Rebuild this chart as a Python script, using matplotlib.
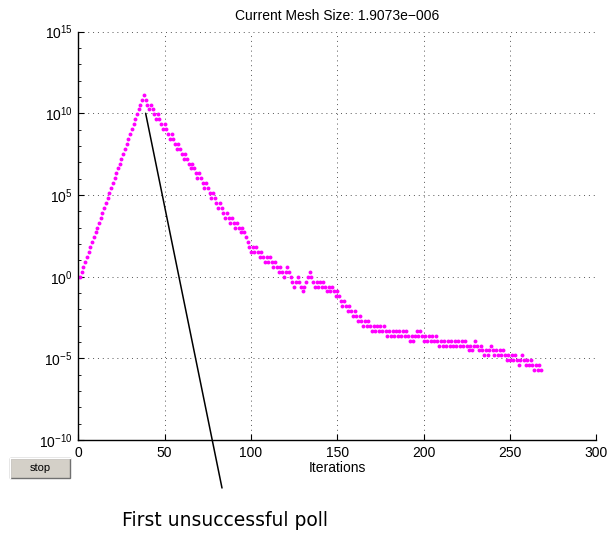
import numpy as np
import matplotlib
matplotlib.use('Agg')
from matplotlib import pyplot as plt
from matplotlib.patches import ConnectionPatch, Rectangle
from matplotlib.lines import Line2D
from matplotlib.ticker import LogLocator, NullFormatter

plt.rcParams['font.family'] = ['Liberation Sans', 'DejaVu Sans']
plt.rcParams['mathtext.fontset'] = 'custom'
plt.rcParams['mathtext.rm'] = 'Liberation Sans'
plt.rcParams['mathtext.it'] = 'Liberation Sans'

# mesh size as power of two, one value per iteration
mesh_log2 = [
    0, 0, 1, 2, 3, 4, 5, 6, 7, 8, 9, 10, 11, 12, 13, 14, 15, 16, 17, 18,
    19, 20, 21, 22, 23, 24, 25, 26, 27, 28, 29, 30, 31, 32, 33, 34, 35, 36, 37,
    36, 35, 34, 35, 34, 33, 32, 33, 32, 31, 30, 31, 30, 29, 28, 29, 28, 27, 26,
    27, 26, 25, 24, 25, 24, 23, 22, 23, 22, 21, 20, 21, 20, 19, 18, 19, 18, 17,
    16, 17, 16, 15, 14, 15, 14,
    13, 12, 13, 12, 11, 12, 11, 10, 11, 10, 9, 10, 9, 8, 7, 6, 5, 6, 5, 6,
    5, 4, 5, 4, 3, 4, 3, 4, 3, 2, 3, 2, 1, 2, 1,
    0, 1, 2, 1, 0, -1, -2, -1, 0, -1, -2, -3, -2, -1, 0, 1, 0, -1, -2, -1,
    -2, -1, -2, -1, -2, -3, -2, -3, -2, -3, -4,
    -3, -4, -5, -6, -5, -6, -7, -6, -7, -8, -7, -8, -9, -8, -9, -10, -9, -10,
    -9, -10, -11, -10, -11, -10, -11, -10, -11, -10, -11, -12, -11,
    -12, -11, -12, -11, -12, -11, -12, -11, -12, -11, -12, -13, -12, -13, -12,
    -11, -12, -11, -12, -13, -12, -13, -12, -13, -12, -13, -12, -13, -14, -13,
    -14, -13, -14, -13, -14, -13, -14, -13, -14, -13, -14, -13, -14, -13, -14,
    -15, -14, -15, -14, -13, -14, -15, -14, -15, -16, -15, -16, -15, -14, -15,
    -16, -15, -16, -15, -16, -15, -16, -17, -16, -17, -16, -17, -16, -17, -18,
    -17, -16, -17, -18, -17, -18, -17, -18, -19, -18, -19, -18, -19,
]
x_ticks = [0, 50, 100, 150, 200, 250, 300]
y_ticks = [1e-10, 1e-5, 1e0, 1e5, 1e10, 1e15]
y_labels = [r'$10^{-10}$', r'$10^{-5}$', r'$10^{0}$', r'$10^{5}$', r'$10^{10}$', r'$10^{15}$']
title = 'Current Mesh Size: 1.9073e\u2212006'
note = 'First unsuccessful poll'

iterations = np.arange(len(mesh_log2))
mesh = 2.0 ** np.array(mesh_log2, dtype=float)

W, H = 609, 538
fig = plt.figure(figsize=(W / 100, H / 100), dpi=100)
ax = fig.add_axes([78.3 / W, 1 - 440.1 / H, 518 / W, 408.5 / H])

ax.semilogy(iterations, mesh, linestyle='none', marker='o', ms=2.8,
            mfc='#ff00ff', mec='#ff00ff', mew=0)
ax.set_xlim(0, 300)
ax.set_ylim(1e-10, 1e15)
ax.set_xticks(x_ticks)
ax.set_yticks(y_ticks)
ax.set_yticklabels(y_labels)
ax.yaxis.set_minor_locator(LogLocator(base=10, subs=(1.0,), numticks=40))
ax.yaxis.set_minor_formatter(NullFormatter())
ax.grid(True, which='major', linestyle=(0, (1, 4)), color='#555555', linewidth=0.7)
for s in ['top', 'right']:
    ax.spines[s].set_visible(False)
for s in ['left', 'bottom']:
    ax.spines[s].set_linewidth(1.0)
ax.tick_params(which='both', direction='in', labelsize=10, pad=4)
ax.tick_params(which='major', length=4)
ax.tick_params(which='minor', length=2)
ax.set_title(title, fontsize=10, pad=8)
ax.set_xlabel('Iterations', fontsize=10, labelpad=1)

# annotation line and text
con = ConnectionPatch(xyA=(39, 1e10), coordsA=ax.transData,
                      xyB=(222 / W, 1 - 488 / H), coordsB=fig.transFigure,
                      color='black', linewidth=1.1)
fig.add_artist(con)
fig.text(225 / W, 1 - 521 / H, note, ha='center', va='center', fontsize=13.5,
         family=['Liberation Sans Narrow', 'DejaVu Sans'])

# stop button
bx, by, bw, bh = 10, 458, 60, 20
fig.add_artist(Rectangle((bx / W, 1 - (by + bh) / H), bw / W, bh / H,
                         transform=fig.transFigure, facecolor='#d4d0c8',
                         edgecolor='#707070', linewidth=1.0))
fig.add_artist(Line2D([bx / W, bx / W, (bx + bw) / W],
                      [1 - (by + bh) / H, 1 - by / H, 1 - by / H],
                      transform=fig.transFigure, color='white', linewidth=1.0))
fig.text((bx + bw / 2) / W, 1 - (by + bh / 2) / H, 'stop', ha='center',
         va='center', fontsize=8)

fig.savefig('out.png', dpi=100)
